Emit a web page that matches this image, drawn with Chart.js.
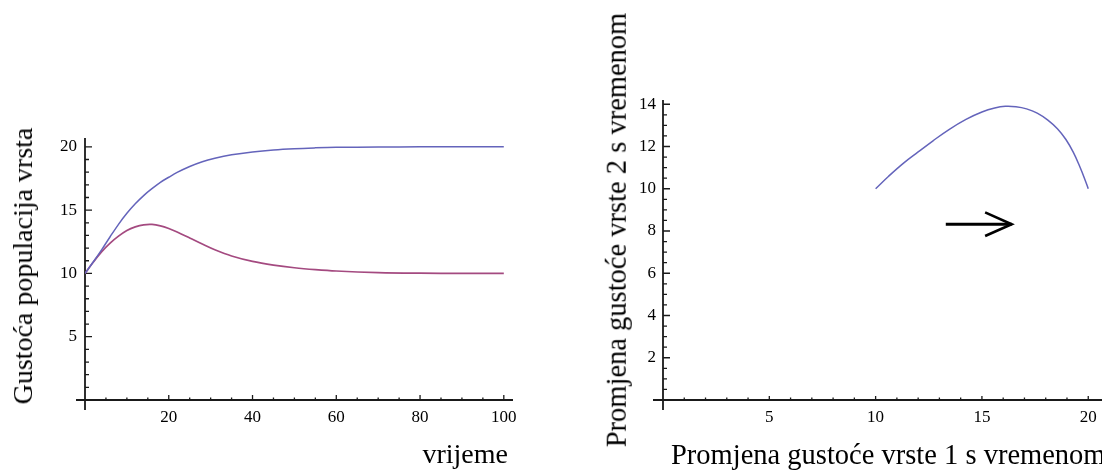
<!DOCTYPE html>
<html>
<head>
<meta charset="utf-8">
<script src="https://cdn.jsdelivr.net/npm/chart.js@4.4.1/dist/chart.umd.min.js"></script>
<style>
html, body { margin:0; padding:0; background:#fff; overflow:hidden; }
body { width:1102px; height:472px; position:relative; font-family:"Liberation Serif", serif; }
canvas { position:absolute; top:0; }
#lijevi { left:0; }
#desni { left:545px; }
.naslov { position:absolute; font-size:28px; line-height:1; color:#000; white-space:nowrap; }
.okrenut { transform:translate(-50%,-50%) rotate(-90deg); }
</style>
</head>
<body>
<canvas id="lijevi" width="540" height="472"></canvas>
<canvas id="desni" width="570" height="472"></canvas>

<div class="naslov okrenut" style="left:23px; top:266px;">Gustoća populacija vrsta</div>
<div class="naslov" style="left:508px; top:440px; transform:translateX(-100%);">vrijeme</div>
<div class="naslov okrenut" style="left:617px; top:230px; font-size:28.5px;">Promjena gustoće vrste 2 s vremenom</div>
<div class="naslov" style="left:671px; top:441px; font-size:28.5px;">Promjena gustoće vrste 1 s vremenom</div>

<script>
// lijevi graf: gustoca obje vrste kroz vrijeme
const vrijeme = [0, 2, 4, 6, 8, 10, 12, 14, 16, 18, 20, 22, 25, 28, 31, 35, 40, 45, 50, 55, 60, 70, 80, 90, 100];
const vrsta1 = [10.0, 10.92, 11.88, 12.9, 13.88, 14.75, 15.5, 16.15, 16.7, 17.2, 17.6, 17.98, 18.45, 18.83, 19.1, 19.37, 19.6, 19.76, 19.86, 19.92, 19.96, 19.99, 20.0, 20.0, 20.0];
const vrsta2 = [10.0, 10.9, 11.72, 12.4, 12.95, 13.4, 13.68, 13.84, 13.87, 13.76, 13.55, 13.27, 12.8, 12.32, 11.87, 11.38, 10.95, 10.66, 10.45, 10.3, 10.19, 10.07, 10.02, 10.0, 10.0];
const xTickLijevi = [20, 40, 60, 80, 100];
const yTickLijevi = [5, 10, 15, 20];

// desni graf: fazni dijagram vrsta 1 / vrsta 2
const gustoca1 = [10.0, 10.6, 11.3, 12.0, 12.7, 13.45, 14.25, 15.0, 15.6, 16.1, 16.6, 17.1, 17.6, 18.1, 18.55, 18.95, 19.3, 19.6, 19.82, 20.0];
const gustoca2 = [10.0, 10.58, 11.2, 11.74, 12.27, 12.8, 13.28, 13.63, 13.82, 13.9, 13.88, 13.78, 13.58, 13.25, 12.84, 12.33, 11.72, 11.05, 10.5, 10.0];
const xTickDesni = [5, 10, 15, 20];
const yTickDesni = [2, 4, 6, 8, 10, 12, 14];

// strelica (smjer kretanja)
const strelicaX = [13.3, 16.4];
const strelicaY = [8.32, 8.32];
const vrhX = [15.15, 16.4, 15.15];
const vrhY = [8.88, 8.32, 7.76];

const PLAVA = '#6464bb';
const LJUBICASTA = '#a44a80';

function tocke(xs, ys) {
    return xs.map(function(x, i) { return {x: x, y: ys[i]}; });
}

function osi(cfg) {
    return {
        id: 'osi',
        beforeDatasetsDraw: function(chart) {
            const ctx = chart.ctx;
            const sx = chart.scales.x, sy = chart.scales.y;
            const x0 = sx.getPixelForValue(0), y0 = sy.getPixelForValue(0);
            ctx.save();
            ctx.strokeStyle = '#1a1a1a';
            ctx.lineWidth = 1.8;
            ctx.beginPath();
            ctx.moveTo(x0 - cfg.lijevo, y0);
            ctx.lineTo(sx.right + cfg.desno, y0);
            ctx.moveTo(x0, sy.top);
            ctx.lineTo(x0, y0 + cfg.dolje);
            ctx.stroke();

            ctx.lineWidth = 1.3;
            ctx.beginPath();
            let n = Math.floor(sx.max / cfg.xKorak + 1e-6);
            for (let i = 1; i <= n; i++) {
                const v = i * cfg.xKorak;
                const major = cfg.xTick.indexOf(Math.round(v * 100) / 100) >= 0;
                const p = sx.getPixelForValue(v);
                ctx.moveTo(p, y0);
                ctx.lineTo(p, y0 - (major ? cfg.xVel : cfg.xMal));
            }
            n = Math.floor(sy.max / cfg.yKorak + 1e-6);
            for (let i = 1; i <= n; i++) {
                const v = i * cfg.yKorak;
                const major = cfg.yTick.indexOf(Math.round(v * 100) / 100) >= 0;
                const p = sy.getPixelForValue(v);
                ctx.moveTo(x0, p);
                ctx.lineTo(x0 + (major ? cfg.yVel : cfg.yMal), p);
            }
            ctx.stroke();
            ctx.restore();
        }
    };
}

function skala(min, max, tickovi, sirina, visina, pad) {
    const s = {
        type: 'linear',
        min: min,
        max: max,
        grid: {display: false, drawTicks: false},
        border: {display: false},
        ticks: {
            color: '#000',
            font: {family: 'Liberation Serif', size: 17},
            padding: pad,
            autoSkip: false,
            maxRotation: 0
        },
        afterBuildTicks: function(a) {
            a.ticks = tickovi.map(function(v) { return {value: v}; });
        }
    };
    if (sirina) s.afterFit = function(a) { a.width = sirina; };
    if (visina) s.afterFit = function(a) { a.height = visina; };
    return s;
}

Chart.defaults.animation = false;

new Chart(document.getElementById('lijevi'), {
    type: 'line',
    data: {
        datasets: [
            {data: tocke(vrijeme, vrsta1), borderColor: PLAVA, borderWidth: 1.5, pointRadius: 0, tension: 0.35},
            {data: tocke(vrijeme, vrsta2), borderColor: LJUBICASTA, borderWidth: 1.7, pointRadius: 0, tension: 0.35}
        ]
    },
    options: {
        responsive: false,
        layout: {padding: {top: 138, right: 32, left: 0, bottom: 0}},
        plugins: {legend: {display: false}, tooltip: {enabled: false}},
        scales: {
            x: skala(0, 101, xTickLijevi, 0, 72, 7),
            y: skala(0, 20.7, yTickLijevi, 85, 0, 8)
        }
    },
    plugins: [osi({lijevo: 9, desno: 5, dolje: 10, xKorak: 5, xTick: xTickLijevi, xVel: 5, xMal: 2.5, yKorak: 1, yTick: yTickLijevi, yVel: 7, yMal: 4})]
});

new Chart(document.getElementById('desni'), {
    type: 'line',
    data: {
        datasets: [
            {data: tocke(gustoca1, gustoca2), borderColor: PLAVA, borderWidth: 1.5, pointRadius: 0, tension: 0.4},
            {data: tocke(strelicaX, strelicaY), borderColor: '#000', borderWidth: 3, pointRadius: 0},
            {data: tocke(vrhX, vrhY), borderColor: '#000', borderWidth: 2.6, pointRadius: 0, tension: 0}
        ]
    },
    options: {
        responsive: false,
        layout: {padding: {top: 100, right: 14, left: 0, bottom: 0}},
        plugins: {legend: {display: false}, tooltip: {enabled: false}},
        scales: {
            x: skala(0, 20.6, xTickDesni, 0, 72, 7),
            y: skala(0, 14.2, yTickDesni, 118, 0, 7)
        }
    },
    plugins: [osi({lijevo: 10, desno: 12, dolje: 10, xKorak: 1, xTick: xTickDesni, xVel: 4, xMal: 2.5, yKorak: 0.5, yTick: yTickDesni, yVel: 7, yMal: 4})]
});
</script>
</body>
</html>
